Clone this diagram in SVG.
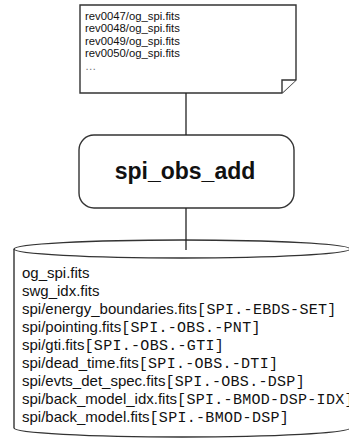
<svg xmlns="http://www.w3.org/2000/svg" width="349" height="440" viewBox="0 0 349 440">
<style>
.sans{font-family:"Liberation Sans",Arial,sans-serif;fill:#111}
.mono{font-family:"Liberation Mono","Courier New",monospace;fill:#111;letter-spacing:0.3px}
.shape{fill:#fff;stroke:#333;stroke-width:1.4}
.conn{stroke:#222;stroke-width:1.3;fill:none}
.doc{font-size:11.3px}
.row{font-size:15px}
</style>
<rect width="349" height="440" fill="#fff"/>
<g id="input-files">
<path class="shape" d="M80,5 H296 V80 L282,93 H80 Z"/>
<path class="shape" d="M282,93 V80 H296" fill="none"/>
<text class="sans doc" x="85" y="20">rev0047/og_spi.fits</text>
<text class="sans doc" x="85" y="32.4">rev0048/og_spi.fits</text>
<text class="sans doc" x="85" y="44.8">rev0049/og_spi.fits</text>
<text class="sans doc" x="85" y="57.2">rev0050/og_spi.fits</text>
<text class="sans doc" x="85" y="69.6" style="fill:#777">…</text>
</g>
<g id="spi_obs_add">
<rect class="shape" x="79" y="135" width="215" height="73" rx="15" ry="15"/>
<text class="sans" font-size="23" font-weight="bold" x="185" y="179" text-anchor="middle">spi_obs_add</text>
</g>
<g id="output-db">
<path class="shape" d="M14,249 V428 A168,9 0 0 0 350,428 V249"/>
<ellipse class="shape" cx="182" cy="249" rx="168" ry="9"/>
<text class="sans row" x="22" y="278">og_spi.fits</text>
<text class="sans row" x="22" y="296">swg_idx.fits</text>
<text class="row" x="22" y="314"><tspan class="sans">spi/energy_boundaries.fits</tspan><tspan class="mono">[SPI.-EBDS-SET]</tspan></text>
<text class="row" x="22" y="332"><tspan class="sans">spi/pointing.fits</tspan><tspan class="mono">[SPI.-OBS.-PNT]</tspan></text>
<text class="row" x="22" y="350"><tspan class="sans">spi/gti.fits</tspan><tspan class="mono">[SPI.-OBS.-GTI]</tspan></text>
<text class="row" x="22" y="368"><tspan class="sans">spi/dead_time.fits</tspan><tspan class="mono">[SPI.-OBS.-DTI]</tspan></text>
<text class="row" x="22" y="386"><tspan class="sans">spi/evts_det_spec.fits</tspan><tspan class="mono">[SPI.-OBS.-DSP]</tspan></text>
<text class="row" x="22" y="404"><tspan class="sans">spi/back_model_idx.fits</tspan><tspan class="mono">[SPI.-BMOD-DSP-IDX]</tspan></text>
<text class="row" x="22" y="422"><tspan class="sans">spi/back_model.fits</tspan><tspan class="mono">[SPI.-BMOD-DSP]</tspan></text>
</g>
<g id="connectors">
<line class="conn" x1="186" y1="93" x2="186" y2="135"/>
<line class="conn" x1="186" y1="208" x2="186" y2="250"/>
</g>
</svg>
